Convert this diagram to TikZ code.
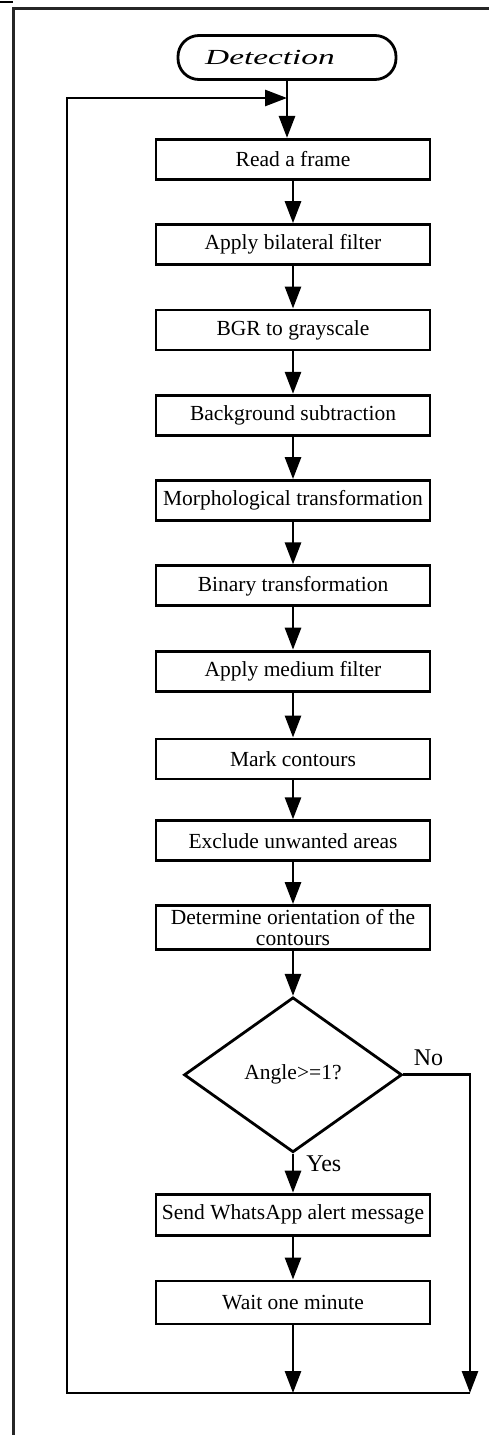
\documentclass[tikz,border=0pt]{standalone}
\usepackage{fontspec}
\setmainfont{Liberation Serif}
\usepackage{graphicx}
\usetikzlibrary{arrows.meta,shapes.geometric,positioning}

\begin{document}
\begin{tikzpicture}
  [x=1pt,y=-1pt,node distance=42.5pt,
   every node/.style={font=\fontsize{21.5}{24}\selectfont},
   procbox/.style={rectangle,draw,line width=2.8pt,minimum width=274pt,minimum height=40pt,inner sep=2pt,align=center},
   termbox/.style={rectangle,draw,line width=2.8pt,rounded corners=21pt,minimum width=218pt,minimum height=44pt},
   decision/.style={diamond,draw,line width=2.8pt,minimum width=218pt,minimum height=155pt,inner sep=0pt},
   flow/.style={line width=2.8pt,-{Triangle[width=16pt,length=22pt]}},
   lbl/.style={font=\fontsize{24}{26}\selectfont,inner sep=0pt}]

  \useasboundingbox (0,0) rectangle (489,1435);

  % page frame
  \draw[line width=1.5pt] (0,2) -- (13,2);
  \draw[line width=3pt,black!85] (13,1435) -- (13,8.5) -- (489,8.5);

  \node[termbox] (detection) at (287,57.5) {\scalebox{1.55}[1]{\itshape Detection}\hspace*{34pt}};
  \node[procbox,below=57pt of detection,xshift=6pt] (frame) {Read a frame};
  \node[procbox,below=of frame] (bilateral) {Apply bilateral filter};
  \node[procbox,below=of bilateral] (gray) {BGR to grayscale};
  \node[procbox,below=of gray] (bgsub) {Background subtraction};
  \node[procbox,below=of bgsub] (morph) {Morphological transformation};
  \node[procbox,below=of morph] (binary) {Binary transformation};
  \node[procbox,below=of binary] (median) {Apply medium filter};
  \node[procbox,below=45pt of median] (contours) {Mark contours};
  \node[procbox,below=39pt of contours] (exclude) {Exclude unwanted areas};
  \node[procbox,below=42pt of exclude,minimum height=44pt,inner sep=1pt] (orient) {Determine orientation of the\\[-3pt] contours};
  \node[decision,below=45pt of orient] (angle) {Angle>=1?};
  \node[procbox,below=39pt of angle,minimum height=41pt] (alert) {Send WhatsApp alert message};
  \node[procbox,below=43pt of alert,minimum height=43pt] (wait) {Wait one minute};

  \coordinate (merge) at (287,98);
  \coordinate (loopleft) at (67,1393);
  \coordinate (loopright) at (470,1393);

  % main chain
  \draw[flow] (detection) -- (detection |- frame.north);
  \foreach \from/\to in {frame/bilateral,bilateral/gray,gray/bgsub,bgsub/morph,morph/binary,
                         binary/median,median/contours,contours/exclude,exclude/orient,orient/angle,alert/wait}
    \draw[flow] (\from) -- (\to);
  \draw[flow] (angle) -- node[lbl,pos=0,anchor=north west,xshift=12pt,yshift=-1pt]{Yes} (alert);

  % No branch and loop back
  \draw[flow] (angle.east) -- node[lbl,pos=0,anchor=base west,xshift=9pt,yshift=9pt]{No} (angle.east -| loopright) -- (loopright);
  \draw[flow] (wait) -- (wait.south |- loopleft);
  \draw[flow] (loopright) -- (loopleft) -- (loopleft |- merge) -- (merge);
\end{tikzpicture}
\end{document}
